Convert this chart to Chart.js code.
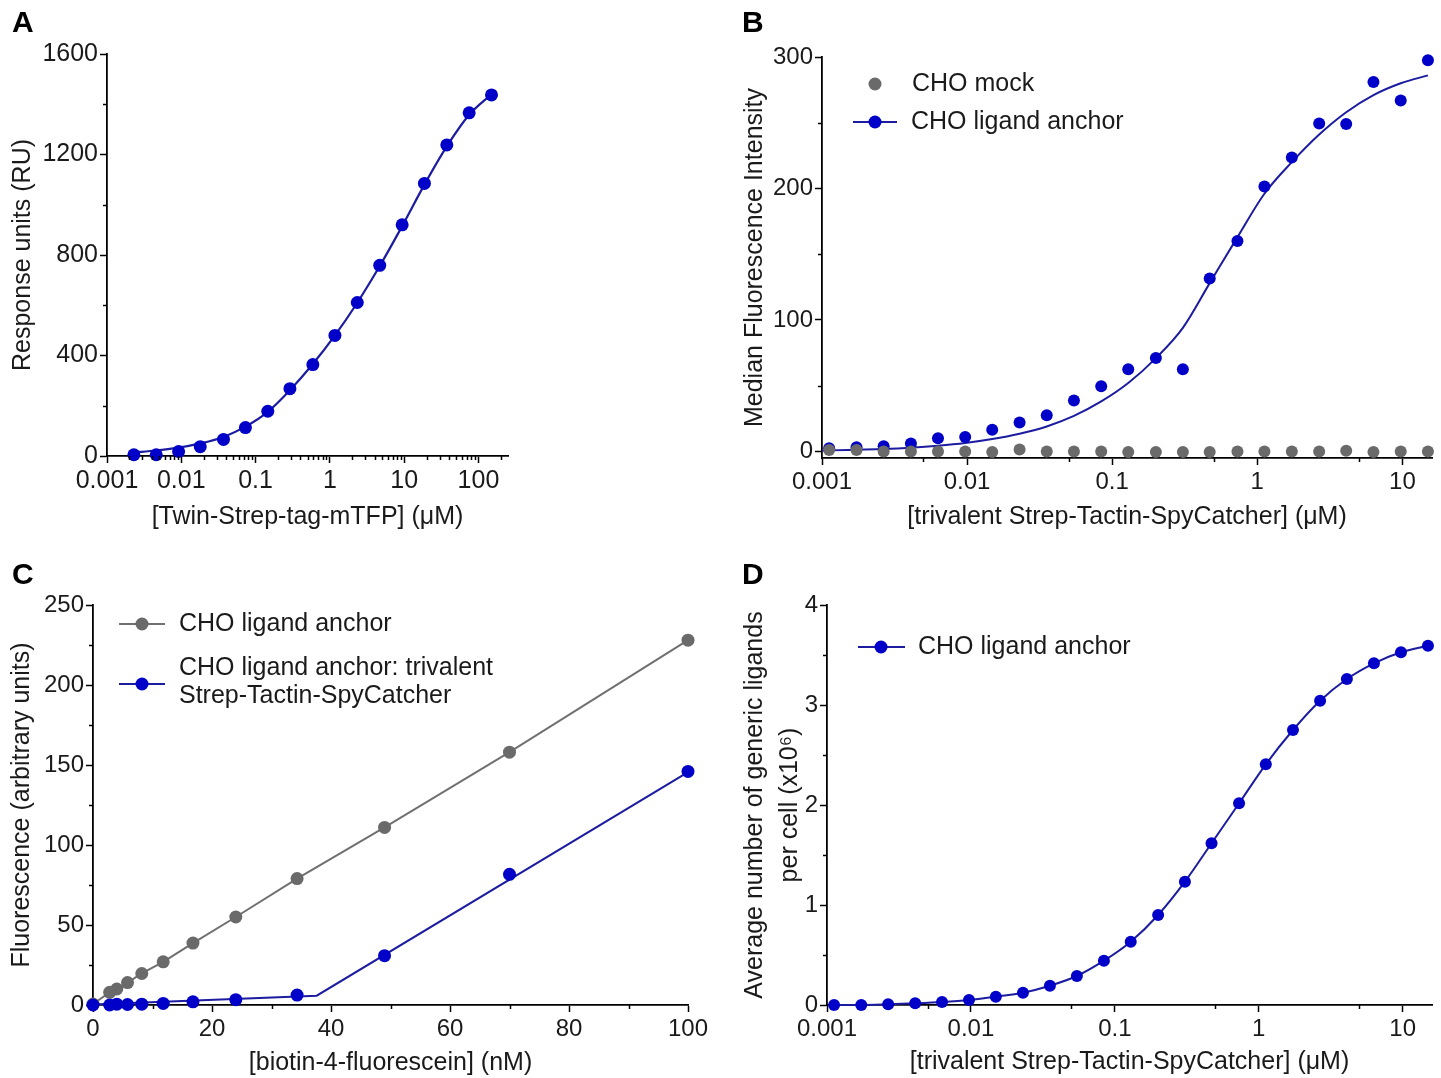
<!DOCTYPE html>
<html>
<head>
<meta charset="utf-8">
<script src="https://cdn.jsdelivr.net/npm/chart.js@4.4.1/dist/chart.umd.min.js"></script>
<style>
  html, body { margin: 0; padding: 0; background: #fff; }
  #wrap { position: relative; width: 1441px; height: 1078px; }
  canvas { position: absolute; }
</style>
</head>
<body>
<div id="wrap">
  <canvas id="panelA" width="720" height="540" style="left:0;top:0"></canvas>
  <canvas id="panelB" width="721" height="540" style="left:720px;top:0"></canvas>
  <canvas id="panelC" width="720" height="538" style="left:0;top:540px"></canvas>
  <canvas id="panelD" width="721" height="538" style="left:720px;top:540px"></canvas>
</div>
<script>
// ---- panel A: SPR binding ----
const aConc = [0.0023, 0.0046, 0.0092, 0.018, 0.037, 0.073, 0.146, 0.29, 0.59, 1.17, 2.34, 4.69, 9.4, 18.75, 37.5, 75, 150];
const aResponse = [5, 5, 18, 37, 66, 113, 178, 268, 364, 480, 611, 759, 920, 1085, 1238, 1366, 1437];
const aFit = [14, 22, 33, 50, 76, 117, 176, 262, 366, 480, 610, 756, 915, 1080, 1232, 1358, 1440];

// ---- panels B and D share the dilution series ----
const sConc = [0.00112, 0.00173, 0.00266, 0.0041, 0.0063, 0.0097, 0.0149, 0.023, 0.0354, 0.0545, 0.084, 0.129,
               0.2, 0.307, 0.47, 0.73, 1.12, 1.73, 2.67, 4.1, 6.32, 9.74, 15];
const bMock = [1, 1, 0, 0, 0, 0, -0.5, 1.5, 0, 0, 0, -0.5, -0.5, -0.5, -0.5, 0, 0, 0, 0, 0.5, -0.5, 0, 0];
const bAnchor = [2.5, 3.2, 4, 6, 10, 11, 16.5, 22, 27.5, 38.7, 49.5, 62.5, 71, 62.5, 131.5, 160, 201.5, 223.5, 249.5, 249, 281, 267, 297.5];
const bFitConc = [0.001].concat(sConc);
const bFit = [0.6, 0.8, 1.3, 1.8, 2.8, 4.3, 6.4, 9.4, 13.5, 19, 27, 38, 52, 71, 94, 128, 163, 196, 220, 241, 258, 271, 280, 286];

// ---- panel C: biotin-4-fluorescein titration ----
const cConc = [0, 2.8, 4.0, 5.8, 8.2, 11.8, 16.8, 24, 34.3, 49, 70, 100];
const cAnchor = [0.6, 7.9, 10, 14, 19.7, 27, 38.7, 55, 79, 111, 158, 228];
const cTrivalent = [0, 0, 0.5, 0.3, 0.5, 1, 2, 3.3, 6.2, 30.8, 81.7, 146];
const cTriFitConc = [0, 37.6, 100];
const cTriFit = [0.3, 5.8, 145.5];

// ---- panel D ----
const dLigands = [0, 0, 0.007, 0.017, 0.03, 0.05, 0.083, 0.123, 0.193, 0.29, 0.443, 0.633, 0.9, 1.233,
                  1.617, 2.017, 2.407, 2.75, 3.043, 3.26, 3.417, 3.527, 3.593];

// tick labels
const logTicksA = [0.001, 0.01, 0.1, 1, 10, 100];
const logTicksBD = [0.001, 0.01, 0.1, 1, 10];
const aYTicks = [0, 400, 800, 1200, 1600];
const bYTicks = [0, 100, 200, 300];
const cXTicks = [0, 20, 40, 60, 80, 100];
const cYTicks = [0, 50, 100, 150, 200, 250];
const dYTicks = [0, 1, 2, 3, 4];

const BLUE = '#0000c8';
const BLUE_LINE = '#1c1ca0';
const GREY = '#6a6a6a';
const GREY_LINE = '#707070';
const FONT = '"Liberation Sans", Arial, Helvetica, sans-serif';

Chart.defaults.font.family = FONT;
Chart.defaults.color = '#1a1a1a';

const pts = (xs, ys) => xs.map((x, i) => ({ x: x, y: ys[i] }));

// minor ticks between labelled ones
const logMinors = (lo, hi, mults) => {
  const out = [];
  for (let d = lo; d <= hi; d *= 10) mults.forEach(m => out.push(+(m * d).toPrecision(3)));
  return out;
};

const decor = {
  id: 'decor',
  afterDraw(chart, args, o) {
    const ctx = chart.ctx;
    const xs = chart.scales.x, ys = chart.scales.y;
    ctx.save();
    ctx.fillStyle = '#000';
    ctx.font = 'bold 30px ' + FONT;
    ctx.textBaseline = 'alphabetic';
    ctx.fillText(o.letter[0], o.letter[1], o.letter[2]);

    ctx.strokeStyle = '#000';
    ctx.lineWidth = 1.5;
    ctx.beginPath();
    (o.minorX || []).forEach(v => {
      if (v < xs.min || v > xs.max) return;
      const p = Math.round(xs.getPixelForValue(v)) + 0.5;
      ctx.moveTo(p, xs.top); ctx.lineTo(p, xs.top + 4);
    });
    (o.minorY || []).forEach(v => {
      const p = Math.round(ys.getPixelForValue(v)) + 0.5;
      ctx.moveTo(ys.right, p); ctx.lineTo(ys.right - 4, p);
    });
    ctx.stroke();

    ctx.font = '25px ' + FONT;
    ctx.textBaseline = 'middle';
    (o.legend || []).forEach(it => {
      if (it.line) {
        ctx.strokeStyle = it.lineColor;
        ctx.lineWidth = 2;
        ctx.beginPath();
        ctx.moveTo(it.line[0], it.y); ctx.lineTo(it.line[1], it.y);
        ctx.stroke();
      }
      ctx.fillStyle = it.color;
      ctx.beginPath();
      ctx.arc(it.dot, it.y, 6.5, 0, Math.PI * 2);
      ctx.fill();
      ctx.fillStyle = '#1a1a1a';
      it.text.forEach((t, i) => ctx.fillText(t, it.tx, it.ty[i]));
    });
    ctx.restore();
  }
};

function axis(opts) {
  const isX = opts.pos === 'bottom';
  return {
    type: opts.type,
    position: opts.pos,
    min: opts.min,
    max: opts.max,
    afterBuildTicks: s => { s.ticks = opts.ticks.map(v => ({ value: v })); },
    afterFit: s => { if (isX) s.height = opts.size; else s.width = opts.size; },
    border: { display: true, color: '#000', width: 1.8 },
    grid: { display: true, drawOnChartArea: false, drawTicks: true, tickLength: 7, tickWidth: 1.5, tickColor: '#000' },
    ticks: {
      autoSkip: false, maxRotation: 0,
      font: { size: opts.tickSize || 24 }, color: '#1a1a1a', padding: isX ? 3 : 2,
      callback: v => String(v)
    },
    title: {
      display: true, text: opts.title, color: '#1a1a1a',
      font: { size: 25, lineHeight: opts.lh || 1.2 },
      padding: isX ? { bottom: opts.tpad } : { top: opts.tpad }
    }
  };
}

function baseOptions(pad, xAxis, yAxis, decorOpts) {
  return {
    responsive: false,
    animation: false,
    devicePixelRatio: 1,
    layout: { padding: pad },
    plugins: { legend: { display: false }, tooltip: { enabled: false }, decor: decorOpts },
    scales: { x: xAxis, y: yAxis }
  };
}

// Panel A
new Chart(document.getElementById('panelA'), {
  type: 'scatter',
  data: {
    datasets: [
      { data: pts(aConc, aResponse), pointRadius: 6.5, pointBackgroundColor: BLUE, pointBorderWidth: 0, showLine: false, clip: false },
      { data: pts(aConc, aFit), pointRadius: 0, showLine: true, borderColor: BLUE_LINE, borderWidth: 2.2, cubicInterpolationMode: 'monotone', clip: false }
    ]
  },
  options: baseOptions({ left: 0, top: 54, right: 212, bottom: 0 },
    axis({ type: 'logarithmic', pos: 'bottom', min: 0.001, max: 250, ticks: logTicksA, size: 84, tickSize: 25,
           title: '[Twin-Strep-tag-mTFP] (\u03bcM)', tpad: 8 }),
    axis({ type: 'linear', pos: 'left', min: 0, max: 1600, ticks: aYTicks, size: 107, tickSize: 25,
           title: 'Response units (RU)', tpad: 8 }),
    { letter: ['A', 12, 32], minorX: logMinors(0.001, 100, [2, 3, 4, 5, 6, 7, 8, 9]), minorY: [200, 600, 1000, 1400] }),
  plugins: [decor]
});

// Panel B
new Chart(document.getElementById('panelB'), {
  type: 'scatter',
  data: {
    datasets: [
      { data: pts(sConc, bMock), pointRadius: 6, pointBackgroundColor: GREY, pointBorderWidth: 0, showLine: false, clip: false },
      { data: pts(sConc, bAnchor), pointRadius: 6, pointBackgroundColor: BLUE, pointBorderWidth: 0, showLine: false, clip: false },
      { data: pts(bFitConc, bFit), pointRadius: 0, showLine: true, borderColor: BLUE_LINE, borderWidth: 2, cubicInterpolationMode: 'monotone', clip: false }
    ]
  },
  options: baseOptions({ left: 0, top: 57, right: 9, bottom: 0 },
    axis({ type: 'logarithmic', pos: 'bottom', min: 0.001, max: 16, ticks: logTicksBD, size: 82,
           title: '[trivalent Strep-Tactin-SpyCatcher] (\u03bcM)', tpad: 8 }),
    axis({ type: 'linear', pos: 'left', min: -5, max: 300, ticks: bYTicks, size: 102,
           title: 'Median Fluorescence Intensity', tpad: 20 }),
    { letter: ['B', 22, 32], minorX: [0.005, 0.05, 0.5, 5], minorY: [50, 150, 250],
      legend: [
        { dot: 155, y: 84, color: GREY, text: ['CHO mock'], tx: 192, ty: [84] },
        { dot: 155, y: 122, color: BLUE, line: [133, 177], lineColor: BLUE_LINE, text: ['CHO ligand anchor'], tx: 191, ty: [122] }
      ] }),
  plugins: [decor]
});

// Panel C
new Chart(document.getElementById('panelC'), {
  type: 'scatter',
  data: {
    datasets: [
      { data: pts(cConc, cTrivalent), pointRadius: 6.5, pointBackgroundColor: BLUE, pointBorderWidth: 0, showLine: false, clip: false },
      { data: pts(cTriFitConc, cTriFit), pointRadius: 0, showLine: true, borderColor: BLUE_LINE, borderWidth: 2, clip: false },
      { data: pts(cConc, cAnchor), pointRadius: 6.5, pointBackgroundColor: GREY, pointBorderWidth: 0, showLine: true,
        borderColor: GREY_LINE, borderWidth: 2, clip: false }
    ]
  },
  options: baseOptions({ left: 0, top: 65, right: 32, bottom: 0 },
    axis({ type: 'linear', pos: 'bottom', min: 0, max: 100, ticks: cXTicks, size: 73,
           title: '[biotin-4-fluorescein] (nM)', tpad: 0 }),
    axis({ type: 'linear', pos: 'left', min: 0, max: 250, ticks: cYTicks, size: 93,
           title: 'Fluorescence (arbitrary units)', tpad: 7 }),
    { letter: ['C', 12, 44], minorX: [10, 30, 50, 70, 90], minorY: [25, 75, 125, 175, 225],
      legend: [
        { dot: 142, y: 84, color: GREY, line: [119, 165], lineColor: GREY_LINE, text: ['CHO ligand anchor'], tx: 179, ty: [84] },
        { dot: 142, y: 144, color: BLUE, line: [119, 165], lineColor: BLUE_LINE,
          text: ['CHO ligand anchor: trivalent', 'Strep-Tactin-SpyCatcher'], tx: 179, ty: [128, 156] }
      ] }),
  plugins: [decor]
});

// Panel D
new Chart(document.getElementById('panelD'), {
  type: 'scatter',
  data: {
    datasets: [
      { data: pts(sConc, dLigands), pointRadius: 6, pointBackgroundColor: BLUE, pointBorderWidth: 0, showLine: true,
        borderColor: BLUE_LINE, borderWidth: 2, cubicInterpolationMode: 'monotone', clip: false }
    ]
  },
  options: baseOptions({ left: 0, top: 65, right: 9, bottom: 0 },
    axis({ type: 'logarithmic', pos: 'bottom', min: 0.001, max: 16, ticks: logTicksBD, size: 73,
           title: '[trivalent Strep-Tactin-SpyCatcher] (\u03bcM)', tpad: 1 }),
    axis({ type: 'linear', pos: 'left', min: 0, max: 4, ticks: dYTicks, size: 107,
           title: ['Average number of generic ligands', 'per cell (x10\u2076)'], tpad: 18, lh: 1.4 }),
    { letter: ['D', 22, 44], minorX: [0.005, 0.05, 0.5, 5], minorY: [0.5, 1.5, 2.5, 3.5],
      legend: [
        { dot: 161, y: 107, color: BLUE, line: [138, 185], lineColor: BLUE_LINE, text: ['CHO ligand anchor'], tx: 198, ty: [107] }
      ] }),
  plugins: [decor]
});
</script>
</body>
</html>
